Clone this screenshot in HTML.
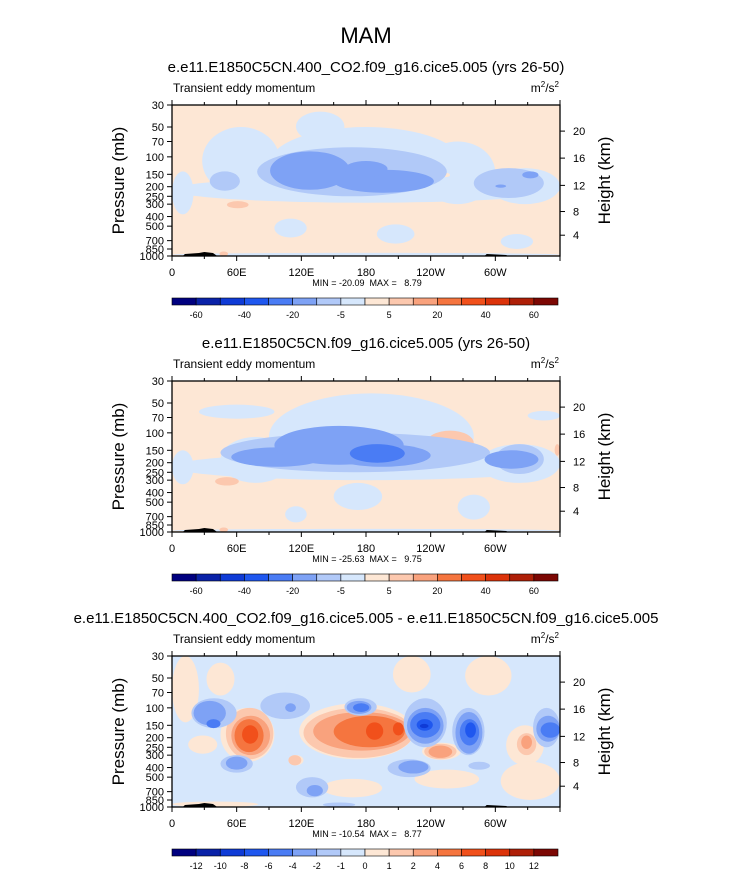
<!DOCTYPE html>
<html><head><meta charset="utf-8"><style>
body{margin:0;background:#fff;}
svg text{font-family:"Liberation Sans",sans-serif;fill:#000;}
</style></head><body>
<svg id="chart" width="733" height="872" xmlns="http://www.w3.org/2000/svg">
<text x="366" y="43" font-size="22" text-anchor="middle">MAM</text>
</svg>
<script>
const pressureTicks=[30,50,70,100,150,200,250,300,400,500,700,850,1000];
const heightTicks=[20,16,12,8,4];
const heightTickPressure=[55,103,194,356,617];
const lonTicks=[0,60,120,180,240,300];
const lonTickLabels=["0","60E","120E","180","120W","60W"];
const colors=["#00007f","#0a22a8","#0f3bd6","#1f57ef","#4a7cf4","#7ea2f5","#b1c9f8","#d6e7fc","#fde7d5","#fcc8ae","#f9a27d","#f5753f","#f1501b","#dc330a","#ae1f07","#7c0703"];
const cbLabels1=["","-60","","-40","","-20","","-5","","5","","20","","40","","60",""];
const cbLabels3=["","-12","-10","-8","-6","-4","-2","-1","0","1","2","4","6","8","10","12",""];
const titles=["e.e11.E1850C5CN.400_CO2.f09_g16.cice5.005 (yrs 26-50)","e.e11.E1850C5CN.f09_g16.cice5.005 (yrs 26-50)","e.e11.E1850C5CN.400_CO2.f09_g16.cice5.005 - e.e11.E1850C5CN.f09_g16.cice5.005"];
const minMax=["MIN = -20.09  MAX =   8.79","MIN = -25.63  MAX =   9.75","MIN = -10.54  MAX =   8.77"];
const backgroundLevel=[8,8,7];
// blobs: [lon0, lon1, pTop, pBottom, levelIndex]
const panel1Blobs=[
[0,360,160,290,7],[0,20,140,380,7],[28,100,50,240,7],[90,270,50,280,7],[115,160,35,70,7],[230,300,70,300,7],[295,360,130,300,7],[95,125,420,650,7],[0,360,930,1000,7],[190,225,480,750,7],[305,335,600,850,7],
[200,215,90,110,8],[250,258,145,160,8],
[35,63,140,220,6],[79,255,80,250,6],[280,345,130,260,6],
[91,165,88,215,5],[150,243,135,230,5],[160,200,110,160,5],[325,340,140,165,5],[300,310,190,205,5],
[51,71,280,330,9],[44,52,900,1000,9]];
const panel2Blobs=[
[0,360,160,300,7],[0,20,150,330,7],[25,95,52,72,7],[45,110,110,320,7],[90,280,40,300,7],[150,195,320,600,7],[285,360,130,320,7],[330,360,60,75,7],[0,360,930,1000,7],[105,125,550,800,7],[265,295,420,750,7],
[236,280,95,170,9],[355,360,130,170,9],[40,62,280,340,9],[44,52,900,1000,9],
[45,295,100,250,6],[300,345,130,260,6],
[55,140,140,220,5],[95,215,85,210,5],[150,240,130,220,5],[290,340,150,230,5],
[165,216,130,200,4]];
const panel3Blobs=[
[0,25,30,140,8],[32,58,35,75,8],[205,240,30,70,8],[272,315,30,75,8],[15,42,190,290,8],[45,95,100,350,8],[118,225,90,330,8],[108,122,300,380,8],[232,268,225,335,8],[310,345,150,380,8],[140,195,520,800,8],[225,285,420,650,8],[305,360,350,850,8],[0,80,880,1000,8],
[50,94,100,330,9],[122,224,100,320,9],[234,264,230,330,9],[320,338,180,300,9],[108,120,300,380,9],
[55,91,120,300,10],[131,221,110,270,10],[238,260,240,320,10],[324,334,190,260,10],
[58,85,130,280,11],[150,216,120,250,11],
[65,80,150,230,12],[180,196,140,210,12],[205,215,140,190,12],
[18,60,80,160,6],[45,75,300,450,6],[82,128,70,130,6],[160,190,80,120,6],[215,255,80,250,6],[260,290,100,300,6],[200,240,330,500,6],[115,145,500,800,6],[335,360,100,250,6],[275,295,350,420,6],[140,170,900,1000,6],
[20,50,85,150,5],[50,70,310,420,5],[105,115,90,110,5],[162,185,85,115,5],[218,252,100,230,5],[263,288,110,290,5],[210,238,340,460,5],[338,360,120,220,5],[125,140,600,780,5],
[32,45,130,160,4],[168,183,90,110,4],[221,249,110,200,4],[267,285,130,240,4],[342,360,140,200,4],
[227,242,130,170,3],[272,282,140,200,3],
[230,238,145,160,2]];
const panels=[panel1Blobs,panel2Blobs,panel3Blobs];
const tops=[105,381,656];
const L=172,R=560,H=151;
const NS="http://www.w3.org/2000/svg";
const svg=document.getElementById('chart');
function mk(tag,attrs,parent){const e=document.createElementNS(NS,tag);for(const k in attrs)e.setAttribute(k,attrs[k]);(parent||svg).appendChild(e);return e;}
function xLon(lon){return L+lon/360*(R-L);}
function yP(p,top){return top+Math.log(p/30)/Math.log(1000/30)*H;}
panels.forEach((blobs,i)=>{
  const top=tops[i];
  const g=mk('g',{});
  
  
  const t=mk('text',{x:366,y:top-33,'font-size':15,'text-anchor':'middle'},g);
  t.textContent=titles[i];
  
  
  const lt=mk('text',{x:173,y:top-13,'font-size':12},g);lt.textContent='Transient eddy momentum';
  
  
  const ut=mk('text',{x:559,y:top-13,'font-size':12,'text-anchor':'end'},g);
  ut.innerHTML='m<tspan dy="-5" font-size="8">2</tspan><tspan dy="5">/s</tspan><tspan dy="-5" font-size="8">2</tspan>';
  
  
  const cp=mk('clipPath',{id:'clip'+i},g);mk('rect',{x:L,y:top,width:R-L,height:H},cp);
  const field=mk('g',{'clip-path':'url(#clip'+i+')'},g);
  
  
  const bg=mk('rect',{x:L,y:top,width:R-L,height:H,fill:colors[backgroundLevel[i]]},field);
  
  
  blobs.forEach(b=>{
    const x0=xLon(b[0]),x1=xLon(b[1]),y0=yP(b[2],top),y1=yP(b[3],top);
    const e=mk('ellipse',{cx:(x0+x1)/2,cy:(y0+y1)/2,rx:(x1-x0)/2,ry:(y1-y0)/2,fill:colors[b[4]]},field);
    
    
  });
  const topo=mk('path',{d:`M${xLon(10)},${top+H} L${xLon(12)},${top+H-2} L${xLon(25)},${top+H-3} L${xLon(30)},${top+H-4} L${xLon(38)},${top+H-3} L${xLon(42)},${top+H} Z M${xLon(290)},${top+H} L${xLon(292)},${top+H-2} L${xLon(310)},${top+H-1} L${xLon(312)},${top+H} Z`,fill:'#000'},field);
  
  
  const fr=mk('rect',{x:L,y:top,width:R-L,height:H,fill:'none',stroke:'#000','stroke-width':1.3},g);
  
  
  for(let lon=0;lon<=360;lon+=30){
    const x=xLon(lon);
    const big=lon%60===0;
    mk('line',{x1:x,x2:x,y1:top+H,y2:top+H+(big?5:3),stroke:'#000'},g);
    mk('line',{x1:x,x2:x,y1:top,y2:top-(big?5:3),stroke:'#000'},g);
  }
  lonTicks.forEach((lon,k)=>{
    const tx=mk('text',{x:xLon(lon),y:top+171,'font-size':11,'text-anchor':'middle'},g);
    tx.textContent=lonTickLabels[k];
    
    
  });
  pressureTicks.forEach(p=>{
    const y=yP(p,top);
    mk('line',{x1:L-5,x2:L,y1:y,y2:y,stroke:'#000'},g);
    const tx=mk('text',{x:L-8,y:y+4,'font-size':11,'text-anchor':'end'},g);
    tx.textContent=p;
    
    
  });
  heightTicks.forEach((h,k)=>{
    const y=yP(heightTickPressure[k],top);
    mk('line',{x1:R,x2:R+5,y1:y,y2:y,stroke:'#000'},g);
    const tx=mk('text',{x:R+13,y:y+4,'font-size':11},g);
    tx.textContent=h;
    
    
  });
  const yt=mk('text',{x:0,y:0,'font-size':17,'text-anchor':'middle',transform:`translate(124,${top+H/2}) rotate(-90)`},g);
  yt.textContent='Pressure (mb)';
  
  
  const ht=mk('text',{x:0,y:0,'font-size':17,'text-anchor':'middle',transform:`translate(610,${top+H/2}) rotate(-90)`},g);
  ht.textContent='Height (km)';
  
  
  const mm=mk('text',{x:367,y:top+181,'font-size':9,'text-anchor':'middle'},g);
  mm.textContent=minMax[i];mm.style.whiteSpace='pre';
  
  
  const cb=mk('g',{},g);
  
  
  const cy=top+193,cw=(558-172)/16;
  colors.forEach((c,k)=>{
    const r=mk('rect',{x:172+k*cw,y:cy,width:cw,height:7,fill:c,stroke:'#000','stroke-width':0.6},cb);
    
    
  });
  const labs=i===2?cbLabels3:cbLabels1;
  labs.forEach((s,k)=>{
    if(!s)return;
    const tx=mk('text',{x:172+k*cw,y:cy+20,'font-size':9,'text-anchor':'middle'},cb);
    tx.textContent=s;
    
    
  });
});
</script>
</body></html>
